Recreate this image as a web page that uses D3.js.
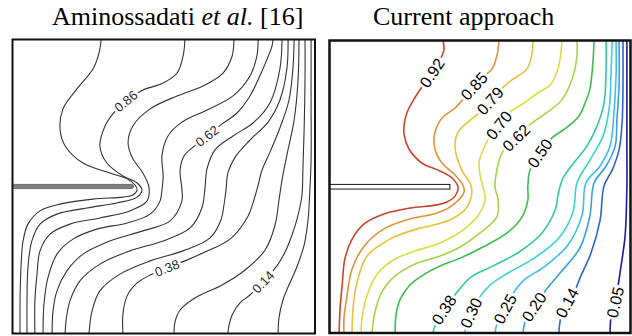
<!DOCTYPE html>
<html>
<head>
<meta charset="utf-8">
<script src="https://cdn.jsdelivr.net/npm/d3@7"></script>
<style>
  html, body { margin: 0; padding: 0; background: #fff; }
  svg { display: block; }
</style>
</head>
<body>
<svg id="fig" width="632" height="336"></svg>
<script>
// Isotherms in a square cavity with a horizontal fin on the hot wall.
// Coordinates are dimensionless: X from the hot (left) wall, Y up from the bottom.

// ---- Left panel: reference solution ----
const leftTitle = ["Aminossadati ", "et al.", " [16]"];
const leftLevels = [0.94, 0.86, 0.78, 0.70, 0.62, 0.54, 0.46, 0.38, 0.26, 0.14, 0.06];
const leftLines = [
  [[0.293,1],[0.286,0.954],[0.266,0.900],[0.213,0.832],[0.167,0.764],[0.157,0.696],[0.174,0.638],[0.233,0.580],[0.322,0.546],[0.379,0.526],[0.405,0.505],[0.412,0.488],[0.398,0.471],[0.365,0.464],[0.266,0.457],[0.157,0.440],[0.091,0.417],[0.051,0.372],[0.035,0.315],[0.028,0.223],[0.025,0.114],[0.025,0]],
  [[0.570,1],[0.564,0.944],[0.544,0.886],[0.498,0.852],[0.431,0.828],[0.375,0.791],[0.332,0.747],[0.306,0.706],[0.289,0.638],[0.312,0.580],[0.365,0.536],[0.412,0.512],[0.428,0.488],[0.412,0.464],[0.345,0.444],[0.246,0.427],[0.147,0.406],[0.091,0.372],[0.064,0.315],[0.051,0.223],[0.048,0.114],[0.048,0]],
  [[0.732,1],[0.726,0.944],[0.696,0.886],[0.630,0.842],[0.544,0.808],[0.455,0.764],[0.398,0.706],[0.382,0.648],[0.398,0.594],[0.431,0.546],[0.451,0.498],[0.445,0.451],[0.388,0.417],[0.289,0.393],[0.190,0.372],[0.124,0.338],[0.091,0.281],[0.081,0.202],[0.074,0.111],[0.074,0]],
  [[0.812,1],[0.808,0.944],[0.785,0.876],[0.729,0.808],[0.643,0.760],[0.560,0.719],[0.514,0.672],[0.494,0.604],[0.498,0.536],[0.494,0.488],[0.488,0.451],[0.455,0.406],[0.379,0.376],[0.279,0.355],[0.200,0.321],[0.147,0.270],[0.117,0.189],[0.104,0.100],[0.101,0]],
  [[0.861,1],[0.858,0.978],[0.828,0.900],[0.785,0.808],[0.742,0.750],[0.693,0.713],[0.643,0.672],[0.597,0.634],[0.567,0.604],[0.554,0.556],[0.560,0.491],[0.560,0.451],[0.521,0.383],[0.431,0.349],[0.322,0.315],[0.233,0.270],[0.180,0.213],[0.147,0.145],[0.134,0.077],[0.131,0]],
  [[0.891,1],[0.884,0.900],[0.851,0.784],[0.795,0.716],[0.729,0.672],[0.669,0.624],[0.643,0.560],[0.636,0.491],[0.626,0.427],[0.587,0.359],[0.498,0.315],[0.388,0.281],[0.289,0.236],[0.223,0.179],[0.190,0.111],[0.177,0.043],[0.174,0]],
  [[0.911,1],[0.907,0.900],[0.884,0.794],[0.845,0.719],[0.785,0.658],[0.736,0.600],[0.712,0.546],[0.706,0.491],[0.699,0.437],[0.689,0.386],[0.653,0.325],[0.564,0.281],[0.455,0.247],[0.355,0.202],[0.289,0.145],[0.263,0.077],[0.253,0]],
  [[0.931,1],[0.927,0.900],[0.914,0.794],[0.884,0.699],[0.851,0.617],[0.825,0.556],[0.812,0.505],[0.798,0.454],[0.779,0.400],[0.719,0.321],[0.636,0.277],[0.570,0.247],[0.511,0.223],[0.455,0.199],[0.412,0.172],[0.379,0.128],[0.365,0.066],[0.365,0]],
  [[0.947,1],[0.944,0.862],[0.931,0.726],[0.907,0.607],[0.891,0.522],[0.881,0.454],[0.868,0.369],[0.835,0.284],[0.769,0.216],[0.693,0.165],[0.603,0.121],[0.554,0.080],[0.537,0.039],[0.534,0]],
  [[0.967,1],[0.967,0.862],[0.964,0.692],[0.960,0.556],[0.957,0.471],[0.944,0.403],[0.924,0.335],[0.901,0.277],[0.874,0.230],[0.828,0.175],[0.785,0.131],[0.752,0.104],[0.726,0.063],[0.716,0.029],[0.712,0]],
  [[0.987,1],[0.987,0.794],[0.987,0.590],[0.983,0.488],[0.977,0.386],[0.964,0.301],[0.940,0.226],[0.911,0.158],[0.894,0.114],[0.881,0.053],[0.878,0]]
];
const leftLabelLevels = [0.86, 0.62, 0.38, 0.14];
const leftLabelAt = [[0.375,0.791],[0.643,0.672],[0.511,0.223],[0.828,0.175]];

// ---- Right panel: present computation ----
const rightTitle = "Current approach";
const rightLevels = [0.92, 0.85, 0.79, 0.70, 0.62, 0.50, 0.38, 0.30, 0.25, 0.20, 0.14, 0.05];
const rightLines = [
  [[0.377,1],[0.380,0.968],[0.367,0.933],[0.340,0.889],[0.307,0.841],[0.277,0.793],[0.257,0.752],[0.248,0.711],[0.248,0.677],[0.264,0.629],[0.307,0.581],[0.367,0.554],[0.407,0.530],[0.427,0.499],[0.417,0.468],[0.390,0.448],[0.357,0.438],[0.267,0.427],[0.181,0.407],[0.115,0.373],[0.075,0.321],[0.051,0.253],[0.042,0.161],[0.035,0.082],[0.032,0]],
  [[0.563,1],[0.556,0.947],[0.540,0.903],[0.510,0.875],[0.480,0.844],[0.450,0.807],[0.417,0.769],[0.374,0.735],[0.350,0.684],[0.350,0.629],[0.374,0.581],[0.417,0.540],[0.443,0.506],[0.447,0.482],[0.414,0.441],[0.357,0.410],[0.267,0.390],[0.181,0.356],[0.115,0.297],[0.075,0.219],[0.058,0.126],[0.048,0.048],[0.048,0]],
  [[0.676,1],[0.673,0.957],[0.656,0.903],[0.606,0.865],[0.570,0.834],[0.533,0.793],[0.497,0.752],[0.460,0.721],[0.427,0.687],[0.417,0.643],[0.424,0.598],[0.443,0.550],[0.467,0.513],[0.473,0.482],[0.457,0.431],[0.407,0.390],[0.334,0.366],[0.291,0.356],[0.201,0.321],[0.125,0.263],[0.091,0.171],[0.078,0.082],[0.075,0]],
  [[0.772,1],[0.769,0.961],[0.759,0.903],[0.733,0.848],[0.696,0.824],[0.646,0.786],[0.600,0.756],[0.563,0.711],[0.530,0.667],[0.510,0.626],[0.497,0.585],[0.500,0.540],[0.510,0.499],[0.517,0.458],[0.497,0.407],[0.440,0.349],[0.367,0.308],[0.284,0.280],[0.218,0.253],[0.161,0.205],[0.125,0.130],[0.108,0.051],[0.105,0]],
  [[0.822,1],[0.822,0.947],[0.806,0.868],[0.772,0.797],[0.716,0.749],[0.669,0.715],[0.620,0.667],[0.573,0.615],[0.556,0.557],[0.550,0.499],[0.560,0.455],[0.556,0.397],[0.500,0.342],[0.434,0.294],[0.367,0.263],[0.284,0.236],[0.218,0.195],[0.174,0.140],[0.151,0.072],[0.141,0]],
  [[0.879,1],[0.875,0.923],[0.865,0.834],[0.849,0.786],[0.829,0.742],[0.786,0.701],[0.739,0.667],[0.699,0.615],[0.666,0.557],[0.659,0.499],[0.659,0.455],[0.640,0.397],[0.590,0.342],[0.510,0.294],[0.434,0.256],[0.367,0.229],[0.317,0.202],[0.267,0.164],[0.234,0.113],[0.221,0.062],[0.218,0]],
  [[0.919,1],[0.919,0.903],[0.912,0.786],[0.889,0.708],[0.855,0.639],[0.809,0.578],[0.776,0.530],[0.759,0.472],[0.752,0.427],[0.706,0.342],[0.630,0.277],[0.537,0.226],[0.470,0.191],[0.424,0.140],[0.380,0.079],[0.350,0.024],[0.344,0]],
  [[0.939,1],[0.935,0.879],[0.929,0.766],[0.909,0.674],[0.885,0.626],[0.859,0.581],[0.822,0.513],[0.809,0.414],[0.762,0.325],[0.680,0.256],[0.593,0.205],[0.533,0.164],[0.497,0.120],[0.470,0.068],[0.453,0.027],[0.450,0]],
  [[0.952,1],[0.952,0.879],[0.945,0.752],[0.932,0.639],[0.899,0.571],[0.852,0.513],[0.839,0.403],[0.792,0.301],[0.713,0.226],[0.646,0.181],[0.613,0.140],[0.583,0.082],[0.556,0.031],[0.550,0]],
  [[0.962,1],[0.962,0.844],[0.955,0.732],[0.949,0.639],[0.919,0.571],[0.879,0.513],[0.865,0.400],[0.832,0.291],[0.766,0.205],[0.719,0.147],[0.679,0.089],[0.650,0.038],[0.643,0]],
  [[0.975,1],[0.975,0.844],[0.972,0.718],[0.962,0.626],[0.939,0.557],[0.912,0.503],[0.899,0.386],[0.869,0.274],[0.832,0.188],[0.816,0.147],[0.789,0.103],[0.769,0.055],[0.762,0]],
  [[0.988,1],[0.988,0.639],[0.988,0.503],[0.982,0.332],[0.965,0.205],[0.958,0.157],[0.949,0.106],[0.935,0.051],[0.932,0]]
];
const rightLabelLevels = [0.92, 0.85, 0.79, 0.70, 0.62, 0.50, 0.38, 0.30, 0.25, 0.20, 0.14, 0.05];
const rightLabelAt = [[0.340,0.889],[0.480,0.844],[0.533,0.793],[0.563,0.711],[0.620,0.667],[0.699,0.615],[0.380,0.079],[0.470,0.068],[0.583,0.082],[0.679,0.089],[0.789,0.103],[0.949,0.106]];

// Fin on the hot wall, at mid-height
const finLength = 0.4;
const finY = 0.5;

// ---- Styles ----
const rightPalette = ["#c8462c","#e0943a","#e6c23e","#d6de42","#a4d546","#3dbd4f","#34c99c","#38d2d2","#3cc0e8","#3a9ee0","#2e66c6","#1c1c98"];
const fmt = d3.format(".2f");
const svg = d3.select("#fig");
const defs = svg.append("defs");

function drawPanel(cfg) {
  const x = d3.scaleLinear().domain([0, 1]).range([cfg.x0, cfg.x1]);
  const y = d3.scaleLinear().domain([0, 1]).range([cfg.y0, cfg.y1]);
  const clipId = cfg.id + "-clip";
  defs.append("clipPath").attr("id", clipId)
    .append("rect")
    .attr("x", cfg.x0).attr("y", cfg.y1)
    .attr("width", cfg.x1 - cfg.x0).attr("height", cfg.y0 - cfg.y1);

  const g = svg.append("g").attr("id", cfg.id);
  const line = d3.line()
    .x(d => x(d[0])).y(d => y(d[1]))
    .curve(d3.curveCatmullRom.alpha(0.5));

  const lineG = g.append("g").attr("clip-path", `url(#${clipId})`);
  const paths = cfg.lines.map((pts, i) =>
    lineG.append("path")
      .attr("d", line(pts))
      .attr("fill", "none")
      .attr("stroke", cfg.color(i))
      .attr("stroke-width", cfg.lineWidth)
      .attr("stroke-linejoin", "round")
      .attr("stroke-linecap", "round")
      .node());

  // Fin
  const finH = cfg.finThickness;
  g.append("rect")
    .attr("x", x(0))
    .attr("y", y(finY) - finH / 2)
    .attr("width", x(finLength) - x(0))
    .attr("height", finH)
    .attr("rx", cfg.finRound).attr("ry", cfg.finRound)
    .attr("fill", cfg.finFill)
    .attr("stroke", cfg.finStroke)
    .attr("stroke-width", cfg.finStrokeWidth);

  // Inline contour labels, aligned with the local direction of their isotherm
  const labG = g.append("g");
  cfg.labelLevels.forEach((lev, k) => {
    const idx = cfg.levels.indexOf(lev);
    const node = paths[idx];
    const tx = x(cfg.labelAt[k][0]), ty = y(cfg.labelAt[k][1]);
    const total = node.getTotalLength();
    let best = 0, bestD = Infinity;
    for (let l = 0; l <= total; l += 0.5) {
      const p = node.getPointAtLength(l);
      const d = (p.x - tx) ** 2 + (p.y - ty) ** 2;
      if (d < bestD) { bestD = d; best = l; }
    }
    const c = node.getPointAtLength(best);
    const p0 = node.getPointAtLength(Math.max(0, best - cfg.tangentSpan));
    const p1 = node.getPointAtLength(Math.min(total, best + cfg.tangentSpan));
    let ang = Math.atan2(p1.y - p0.y, p1.x - p0.x) * 180 / Math.PI;
    if (ang > 90) ang -= 180;
    if (ang <= -90) ang += 180;
    const lg = labG.append("g").attr("transform", `translate(${c.x},${c.y}) rotate(${ang})`);
    const t = lg.append("text")
      .attr("text-anchor", "middle")
      .attr("dy", "0.36em")
      .attr("font-family", "'Liberation Sans', Arial, Helvetica, sans-serif")
      .attr("font-size", cfg.labelSize)
      .attr("fill", cfg.labelColor)
      .text(fmt(lev));
    const w = t.node().getComputedTextLength();
    lg.insert("rect", "text")
      .attr("x", -w / 2 - cfg.labelPad).attr("width", w + 2 * cfg.labelPad)
      .attr("y", -cfg.labelGap / 2).attr("height", cfg.labelGap)
      .attr("fill", "#fff");
  });

  // Cavity walls
  g.append("rect")
    .attr("x", cfg.x0).attr("y", cfg.y1)
    .attr("width", cfg.x1 - cfg.x0).attr("height", cfg.y0 - cfg.y1)
    .attr("fill", "none")
    .attr("stroke", "#111")
    .attr("stroke-width", cfg.frameWidth);
}

drawPanel({
  id: "left", x0: 12.5, x1: 315, y0: 333.5, y1: 39.5,
  levels: leftLevels, lines: leftLines,
  labelLevels: leftLabelLevels, labelAt: leftLabelAt,
  color: () => "#333", lineWidth: 1.1,
  labelSize: 13, labelColor: "#2a2a2a", labelPad: 2, labelGap: 7, tangentSpan: 12,
  finThickness: 4.2, finRound: 2, finFill: "#7f7f7f", finStroke: "#555", finStrokeWidth: 0.8,
  frameWidth: 2
});

drawPanel({
  id: "right", x0: 329.5, x1: 630.5, y0: 333, y1: 40.5,
  levels: rightLevels, lines: rightLines,
  labelLevels: rightLabelLevels, labelAt: rightLabelAt,
  color: i => rightPalette[i], lineWidth: 1.6,
  labelSize: 16, labelColor: "#000", labelPad: 2, labelGap: 8, tangentSpan: 14,
  finThickness: 4.6, finRound: 0, finFill: "#fff", finStroke: "#2a2a2a", finStrokeWidth: 1.1,
  frameWidth: 2.5
});

// Panel titles
const titleFont = "'Liberation Serif', 'Times New Roman', Times, serif";
const lt = svg.append("text")
  .attr("x", 52).attr("y", 25)
  .attr("font-family", titleFont).attr("font-size", 26).attr("fill", "#000")
  .attr("xml:space", "preserve");
lt.append("tspan").text(leftTitle[0]);
lt.append("tspan").attr("font-style", "italic").text(leftTitle[1]);
lt.append("tspan").text(leftTitle[2]);

svg.append("text")
  .attr("x", 373).attr("y", 25)
  .attr("font-family", titleFont).attr("font-size", 26).attr("fill", "#000")
  .text(rightTitle);
</script>
</body>
</html>
